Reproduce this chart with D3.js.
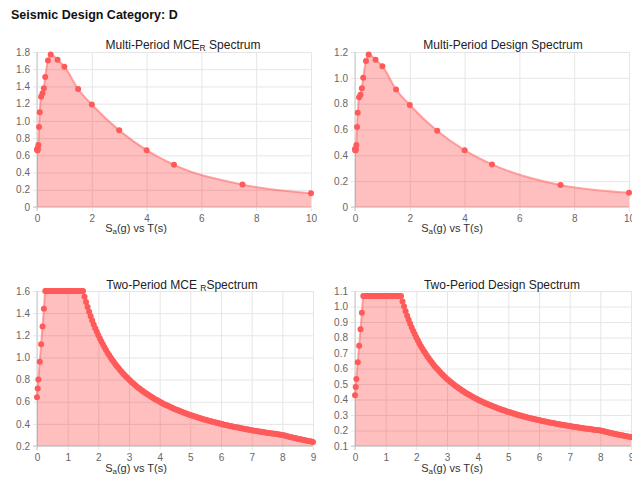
<!DOCTYPE html>
<html>
<head>
<meta charset="utf-8">
<script src="https://cdn.jsdelivr.net/npm/d3@7"></script>
<style>
  body { margin: 0; background: #fff; font-family: "Liberation Sans", Arial, sans-serif; }
  .tick text { fill: #666; font-size: 10px; font-family: "Liberation Sans", Arial, sans-serif; }
</style>
</head>
<body>
<div id="chart"></div>
<script>
// Multi-period spectra (22 standard periods)
var mpPeriods = [0, 0.01, 0.02, 0.03, 0.05, 0.075, 0.1, 0.15, 0.2, 0.25, 0.3, 0.4, 0.5, 0.75, 1, 1.5, 2, 3, 4, 5, 7.5, 10];
var mpMCE = [0.67, 0.66, 0.66, 0.68, 0.72, 0.93, 1.10, 1.28, 1.32, 1.38, 1.51, 1.70, 1.77, 1.71, 1.63, 1.37, 1.19, 0.89, 0.66, 0.49, 0.26, 0.16];
var mpDesign = [0.45, 0.44, 0.44, 0.45, 0.48, 0.62, 0.73, 0.85, 0.87, 0.92, 1.00, 1.13, 1.18, 1.14, 1.09, 0.91, 0.79, 0.59, 0.44, 0.33, 0.17, 0.11];

// Two-period spectra
var tpPeriods = [0, 0.0225, 0.045, 0.09, 0.135, 0.18, 0.225, 0.27,
  0.3, 0.35, 0.4, 0.45, 0.5, 0.55, 0.6, 0.65, 0.7, 0.75, 0.8, 0.85, 0.9, 0.95, 1.0, 1.05, 1.1, 1.15, 1.2, 1.25, 1.3, 1.35, 1.4, 1.45,
  1.5, 1.55, 1.6, 1.65, 1.7, 1.75, 1.8, 1.85, 1.9, 1.95, 2.0, 2.05, 2.1, 2.15, 2.2, 2.25, 2.3, 2.35, 2.4, 2.45,
  2.5, 2.55, 2.6, 2.65, 2.7, 2.75, 2.8, 2.85, 2.9, 2.95, 3.0, 3.05, 3.1, 3.15, 3.2, 3.25, 3.3, 3.35, 3.4, 3.45,
  3.5, 3.55, 3.6, 3.65, 3.7, 3.75, 3.8, 3.85, 3.9, 3.95, 4.0, 4.05, 4.1, 4.15, 4.2, 4.25, 4.3, 4.35, 4.4, 4.45,
  4.5, 4.55, 4.6, 4.65, 4.7, 4.75, 4.8, 4.85, 4.9, 4.95, 5.0, 5.05, 5.1, 5.15, 5.2, 5.25, 5.3, 5.35, 5.4, 5.45,
  5.5, 5.55, 5.6, 5.65, 5.7, 5.75, 5.8, 5.85, 5.9, 5.95, 6.0, 6.05, 6.1, 6.15, 6.2, 6.25, 6.3, 6.35, 6.4, 6.45,
  6.5, 6.55, 6.6, 6.65, 6.7, 6.75, 6.8, 6.85, 6.9, 6.95, 7.0, 7.05, 7.1, 7.15, 7.2, 7.25, 7.3, 7.35, 7.4, 7.45,
  7.5, 7.55, 7.6, 7.65, 7.7, 7.75, 7.8, 7.85, 7.9, 7.95, 8.0, 8.05, 8.1, 8.15, 8.2, 8.25, 8.3, 8.35, 8.4, 8.45,
  8.5, 8.55, 8.6, 8.65, 8.7, 8.75, 8.8, 8.85, 8.9, 8.95, 9.0];
var tpMCE = [0.64, 0.72, 0.80, 0.96, 1.12, 1.28, 1.44, 1.60,
  1.6, 1.6, 1.6, 1.6, 1.6, 1.6, 1.6, 1.6, 1.6, 1.6, 1.6, 1.6, 1.6, 1.6, 1.6, 1.6, 1.6, 1.6, 1.6, 1.6, 1.6, 1.6, 1.6, 1.6,
  1.600, 1.548, 1.500, 1.455, 1.412, 1.371, 1.333, 1.297, 1.263, 1.231, 1.200, 1.171, 1.143, 1.116, 1.091, 1.067, 1.043, 1.021, 1.000, 0.980,
  0.960, 0.941, 0.923, 0.906, 0.889, 0.873, 0.857, 0.842, 0.828, 0.814, 0.800, 0.787, 0.774, 0.762, 0.750, 0.738, 0.727, 0.716, 0.706, 0.696,
  0.686, 0.676, 0.667, 0.658, 0.649, 0.640, 0.632, 0.623, 0.615, 0.608, 0.600, 0.593, 0.585, 0.578, 0.571, 0.565, 0.558, 0.552, 0.545, 0.539,
  0.533, 0.527, 0.522, 0.516, 0.511, 0.505, 0.500, 0.495, 0.490, 0.485, 0.480, 0.475, 0.471, 0.466, 0.462, 0.457, 0.453, 0.449, 0.444, 0.440,
  0.436, 0.432, 0.429, 0.425, 0.421, 0.417, 0.414, 0.410, 0.407, 0.403, 0.400, 0.397, 0.393, 0.390, 0.387, 0.384, 0.381, 0.378, 0.375, 0.372,
  0.369, 0.366, 0.364, 0.361, 0.358, 0.356, 0.353, 0.350, 0.348, 0.345, 0.343, 0.340, 0.338, 0.336, 0.333, 0.331, 0.329, 0.327, 0.324, 0.322,
  0.320, 0.318, 0.316, 0.314, 0.312, 0.310, 0.308, 0.306, 0.304, 0.302, 0.300, 0.296, 0.293, 0.289, 0.286, 0.282, 0.279, 0.275, 0.272, 0.269,
  0.266, 0.263, 0.260, 0.257, 0.254, 0.251, 0.248, 0.245, 0.242, 0.240, 0.237];
var tpDesign = [0.427, 0.48, 0.533, 0.64, 0.747, 0.853, 0.96, 1.067,
  1.067, 1.067, 1.067, 1.067, 1.067, 1.067, 1.067, 1.067, 1.067, 1.067, 1.067, 1.067, 1.067, 1.067, 1.067, 1.067, 1.067, 1.067, 1.067, 1.067, 1.067, 1.067, 1.067, 1.067,
  1.067, 1.032, 1.000, 0.970, 0.941, 0.914, 0.889, 0.865, 0.842, 0.821, 0.800, 0.780, 0.762, 0.744, 0.727, 0.711, 0.696, 0.681, 0.667, 0.653,
  0.640, 0.627, 0.615, 0.604, 0.593, 0.582, 0.571, 0.561, 0.552, 0.542, 0.533, 0.525, 0.516, 0.508, 0.500, 0.492, 0.485, 0.478, 0.471, 0.464,
  0.457, 0.451, 0.444, 0.438, 0.432, 0.427, 0.421, 0.416, 0.410, 0.405, 0.400, 0.395, 0.390, 0.386, 0.381, 0.376, 0.372, 0.368, 0.364, 0.360,
  0.356, 0.352, 0.348, 0.344, 0.340, 0.337, 0.333, 0.330, 0.327, 0.323, 0.320, 0.317, 0.314, 0.311, 0.308, 0.305, 0.302, 0.299, 0.296, 0.294,
  0.291, 0.288, 0.286, 0.283, 0.281, 0.278, 0.276, 0.274, 0.271, 0.269, 0.267, 0.264, 0.262, 0.260, 0.258, 0.256, 0.254, 0.252, 0.250, 0.248,
  0.246, 0.244, 0.242, 0.241, 0.239, 0.237, 0.235, 0.234, 0.232, 0.230, 0.229, 0.227, 0.225, 0.224, 0.222, 0.221, 0.219, 0.218, 0.216, 0.215,
  0.213, 0.212, 0.211, 0.209, 0.208, 0.206, 0.205, 0.204, 0.203, 0.201, 0.200, 0.198, 0.195, 0.193, 0.190, 0.188, 0.186, 0.184, 0.181, 0.179,
  0.177, 0.175, 0.173, 0.171, 0.169, 0.167, 0.165, 0.163, 0.162, 0.160, 0.158];

// tick values
var mpXTicks = [0, 2, 4, 6, 8, 10];
var tpXTicks = [0, 1, 2, 3, 4, 5, 6, 7, 8, 9];
var mceYTicks = [0, 0.2, 0.4, 0.6, 0.8, 1.0, 1.2, 1.4, 1.6, 1.8];
var designYTicks = [0, 0.2, 0.4, 0.6, 0.8, 1.0, 1.2];
var tpMceYTicks = [0.2, 0.4, 0.6, 0.8, 1.0, 1.2, 1.4, 1.6];
var tpDesignYTicks = [0.1, 0.2, 0.3, 0.4, 0.5, 0.6, 0.7, 0.8, 0.9, 1.0, 1.1];

var svg = d3.select("#chart")
    .append("svg")
    .attr("width", 632)
    .attr("height", 477);

svg.append("text")
    .attr("x", 11)
    .attr("y", 19)
    .attr("font-size", "12.5px")
    .attr("font-weight", "bold")
    .attr("fill", "#111")
    .text("Seismic Design Category: D");

var panels = [
    {left: 37, right: 311, top: 52, bottom: 207, ox: 0, xDomain: [0, 10], yDomain: [0, 1.8],
     xTicks: mpXTicks, yTicks: mceYTicks, periods: mpPeriods, values: mpMCE,
     title: ["Multi-Period MCE", "R", " Spectrum"], titleX: 183, titleY: 49, labelY: 232},
    {left: 355, right: 629, top: 52, bottom: 207, ox: 316, xDomain: [0, 10], yDomain: [0, 1.2],
     xTicks: mpXTicks, yTicks: designYTicks, periods: mpPeriods, values: mpDesign,
     title: ["Multi-Period Design Spectrum"], titleX: 503, titleY: 49, labelY: 232},
    {left: 37, right: 313, top: 291, bottom: 446, ox: 0, xDomain: [0, 9], yDomain: [0.2, 1.6],
     xTicks: tpXTicks, yTicks: tpMceYTicks, periods: tpPeriods, values: tpMCE,
     title: ["Two-Period MCE ", "R", "Spectrum"], titleX: 182, titleY: 289, labelY: 472},
    {left: 355, right: 631, top: 291, bottom: 446, ox: 316, xDomain: [0, 9], yDomain: [0.1, 1.1],
     xTicks: tpXTicks, yTicks: tpDesignYTicks, periods: tpPeriods, values: tpDesign,
     title: ["Two-Period Design Spectrum"], titleX: 502, titleY: 289, labelY: 472}
];

function yFormat(d) {
    return d === 0 ? "0" : d3.format(".1f")(d);
}

function drawPanel(p) {
    var x = d3.scaleLinear().domain(p.xDomain).range([p.left, p.right]);
    var y = d3.scaleLinear().domain(p.yDomain).range([p.bottom, p.top]);
    var w = p.right - p.left;
    var h = p.bottom - p.top;
    var g = svg.append("g");

    // y axis + horizontal grid
    var yAxis = g.append("g")
        .attr("transform", `translate(${p.left},0)`)
        .call(d3.axisLeft(y).tickValues(p.yTicks).tickSizeInner(-w).tickSizeOuter(0).tickPadding(7).tickFormat(yFormat));
    yAxis.selectAll(".tick line").attr("x1", -4).attr("stroke", "#e6e6e6");
    yAxis.select(".domain").remove();

    // x axis + vertical grid
    var xAxis = g.append("g")
        .attr("transform", `translate(0,${p.bottom})`)
        .call(d3.axisBottom(x).tickValues(p.xTicks).tickSizeInner(-h).tickSizeOuter(0).tickPadding(8));
    xAxis.selectAll(".tick line").attr("y1", 4).attr("stroke", "#e6e6e6");
    xAxis.select(".domain").remove();

    // axis lines
    g.append("line").attr("x1", p.left).attr("x2", p.left).attr("y1", p.top).attr("y2", p.bottom + 4)
        .attr("stroke", "#c8c8c8");
    g.append("line").attr("x1", p.left - 4).attr("x2", p.right).attr("y1", p.bottom).attr("y2", p.bottom)
        .attr("stroke", "#c8c8c8");

    var pts = p.periods.map(function(t, i) { return [t, p.values[i]]; });

    var area = d3.area()
        .x(d => x(d[0]))
        .y0(p.bottom)
        .y1(d => y(d[1]))
        .curve(d3.curveMonotoneX);
    var line = d3.line()
        .x(d => x(d[0]))
        .y(d => y(d[1]))
        .curve(d3.curveMonotoneX);

    g.append("path").datum(pts).attr("d", area).attr("fill", "rgba(255, 0, 0, 0.25)");
    g.append("path").datum(pts).attr("d", line).attr("fill", "none")
        .attr("stroke", "rgba(255, 99, 99, 0.55)").attr("stroke-width", 2);

    g.selectAll("circle")
        .data(pts)
        .enter()
        .append("circle")
        .attr("cx", d => x(d[0]))
        .attr("cy", d => y(d[1]))
        .attr("r", 3)
        .attr("fill", "#ff5a5a");

    // title with optional subscript
    var title = g.append("text")
        .attr("x", p.titleX)
        .attr("y", p.titleY)
        .attr("text-anchor", "middle")
        .attr("font-size", "12px")
        .attr("fill", "#222");
    title.append("tspan").text(p.title[0]);
    if (p.title.length > 1) {
        title.append("tspan").attr("font-size", "8.5px").attr("dy", 2).text(p.title[1]);
        title.append("tspan").attr("dy", -2).text(p.title[2]);
    }

    // x axis label S_a(g) vs T(s)
    var lab = g.append("text")
        .attr("x", p.ox + 136)
        .attr("y", p.labelY)
        .attr("text-anchor", "middle")
        .attr("font-size", "11px")
        .attr("fill", "#333");
    lab.append("tspan").text("S");
    lab.append("tspan").attr("font-size", "8px").attr("dy", 2).text("a");
    lab.append("tspan").attr("dy", -2).text("(g) vs T(s)");
}

panels.forEach(drawPanel);
</script>
</body>
</html>
